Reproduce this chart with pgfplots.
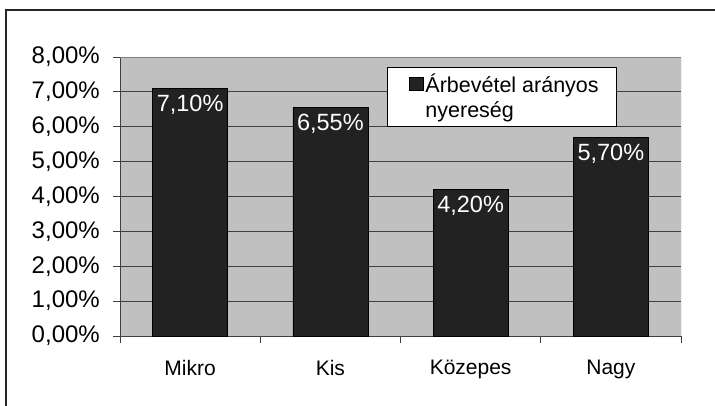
\documentclass[border=0pt]{standalone}
\usepackage{fontspec}
\setmainfont{Liberation Sans}
\usepackage{pgfplots}
\pgfplotsset{compat=1.18}
\definecolor{plotbg}{HTML}{C0C0C0}
\definecolor{barc}{HTML}{222222}
\definecolor{gridc}{HTML}{404040}
\definecolor{framec}{HTML}{808080}
\begin{document}
\fontsize{21}{25}\selectfont
\begin{tikzpicture}
\useasboundingbox (0,0) rectangle (715pt,405pt);
\draw[line width=1.3pt, black!85] (6pt,-5pt) -- (6pt,395pt) -- (720pt,395pt);
\begin{axis}[
  at={(120pt,69pt)}, anchor=south west,
  scale only axis, width=561pt, height=279pt,
  xmin=-0.5, xmax=3.5, ymin=0, ymax=8,
  axis background/.style={fill=plotbg},
  axis x line*=bottom, axis y line*=left,
  axis line style={draw=gridc, line width=1pt},
  tick align=outside, major tick length=7pt,
  ytick={0,1,2,3,4,5,6,7,8},
  yticklabel={\fontsize{24}{28}\selectfont\pgfmathprintnumber[assume math mode=true,fixed,fixed zerofill,precision=2,use comma]{\tick}\%},
  ymajorgrids, grid style={draw=gridc, line width=0.8pt},
  y tick style={draw=gridc, line width=1pt},
  y tick label style={xshift=-6pt},
  xtick={-0.5,0.5,1.5,2.5,3.5}, xticklabels={},
  x tick style={draw=gridc, line width=1pt},
  extra x ticks={0,1,2,3},
  extra x tick labels={Mikro,Kis,Közepes,Nagy},
  extra x tick style={major tick length=0pt, xticklabel style={font=\fontsize{21}{25}\selectfont, yshift=-17pt}},
  legend style={at={(rel axis cs:0.476,0.964)}, anchor=north west, draw=black, fill=white, line width=0.8pt,
    inner xsep=10pt, inner ysep=4pt,
    cells={anchor=west, align=left}, font=\fontsize{21.5}{25}\selectfont},
]
\addplot[ybar, bar width=75pt, fill=barc, draw=black, line width=0.6pt,
  nodes near coords, point meta=explicit symbolic,
  every node near coord/.style={text=white, anchor=base, yshift=-23pt, font=\fontsize{23.5}{28}\selectfont},
  legend image code/.code={\path[draw=none, fill=none] (0pt,0pt) -- (26pt,0pt); \fill[barc, draw=black] (11.5pt,7pt) rectangle (25.5pt,20pt);}]
  coordinates {(0,7.10) [{7,10\%}] (1,6.55) [{6,55\%}] (2,4.20) [{4,20\%}] (3,5.70) [{5,70\%}]};
\addlegendentry{Árbevétel arányos\hspace*{6pt}\\nyereség}
\draw[framec, line width=1pt] (rel axis cs:0,1) -- (rel axis cs:1,1) -- (rel axis cs:1,0);
\end{axis}
\end{tikzpicture}
\end{document}
